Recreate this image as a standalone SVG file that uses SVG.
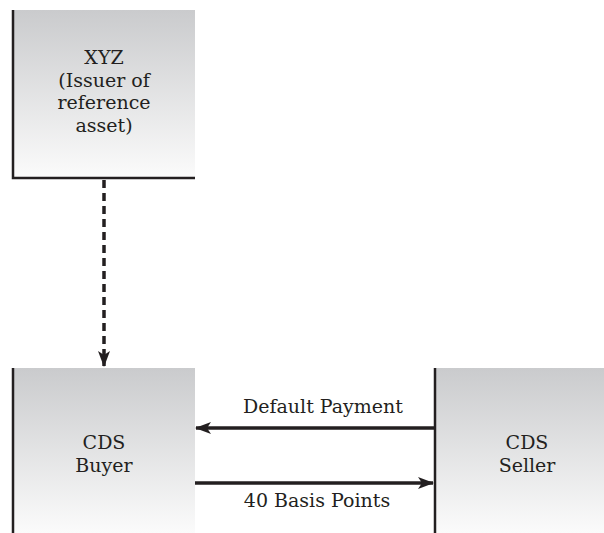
<svg xmlns="http://www.w3.org/2000/svg" width="604" height="533" viewBox="0 0 604 533">
<defs>
<linearGradient id="g" x1="0" y1="0" x2="0" y2="1">
<stop offset="0" stop-color="#cacbcd"/>
<stop offset="1" stop-color="#fbfbfb"/>
</linearGradient>
<marker id="ah" markerWidth="16" markerHeight="12" viewBox="0 0 16 12" refX="15" refY="6" orient="auto" markerUnits="userSpaceOnUse">
<path d="M0,0 L16,6 L0,12 L4,6 Z" fill="#231f20"/>
</marker>
</defs>
<style>
text{font-family:"DejaVu Serif","Liberation Serif",serif;font-size:19px;fill:#231f20;text-anchor:middle}
.bd{stroke:#231f20;stroke-width:2.5;fill:none}
.ar{stroke:#231f20;stroke-width:3.5;fill:none}
</style>
<rect width="604" height="533" fill="#fff"/>
<g id="xyz">
<rect x="13" y="10" width="182" height="168" fill="url(#g)"/>
<path class="bd" d="M13,10 V178 H195"/>
<text x="104" y="64">XYZ</text>
<text x="104" y="87">(Issuer of</text>
<text x="104" y="109">reference</text>
<text x="104" y="132">asset)</text>
</g>
<g id="buyer">
<rect x="13" y="368" width="182" height="165" fill="url(#g)"/>
<path class="bd" d="M13,368 V533"/>
<text x="104" y="449">CDS</text>
<text x="104" y="472">Buyer</text>
</g>
<g id="seller">
<rect x="435" y="368" width="169" height="165" fill="url(#g)"/>
<path class="bd" d="M435,368 V533"/>
<text x="527" y="449">CDS</text>
<text x="527" y="472">Seller</text>
</g>
<g id="connectors">
<path class="ar" d="M104,180 V366" stroke-dasharray="8,5" marker-end="url(#ah)"/>
<path class="ar" d="M434,428 H196" marker-end="url(#ah)"/>
<path class="ar" d="M195,483 H433" marker-end="url(#ah)"/>
<text x="323" y="413">Default Payment</text>
<text x="317" y="507">40 Basis Points</text>
</g>
</svg>
